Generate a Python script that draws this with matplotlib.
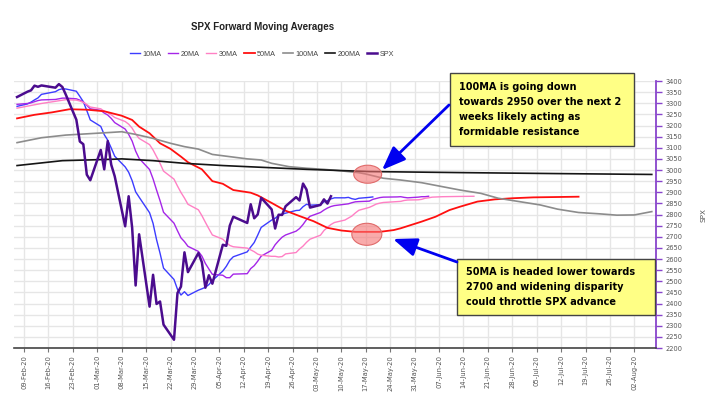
import matplotlib
matplotlib.use('Agg')
import matplotlib.pyplot as plt
import matplotlib.dates as mdates
from matplotlib.patches import Ellipse, Rectangle, FancyArrowPatch
from matplotlib import font_manager
import pandas as pd

# ---- data ----
spx_dates = ['02-07','02-10','02-11','02-12','02-13','02-14','02-18','02-19','02-20','02-21',
             '02-24','02-25','02-26','02-27','02-28','03-02','03-03','03-04','03-05','03-06',
             '03-09','03-10','03-11','03-12','03-13','03-16','03-17','03-18','03-19','03-20',
             '03-23','03-24','03-25','03-26','03-27','03-30','03-31','04-01','04-02','04-03',
             '04-06','04-07','04-08','04-09','04-13','04-14','04-15','04-16','04-17','04-20',
             '04-21','04-22','04-23','04-24','04-27','04-28','04-29','04-30','05-01','05-04',
             '05-05','05-06','05-07']
spx_vals = [3328,3352,3358,3379,3374,3380,3370,3386,3373,3338,
            3226,3128,3116,2979,2954,3090,3003,3130,3024,2972,
            2747,2882,2741,2481,2711,2386,2529,2398,2409,2305,
            2237,2447,2476,2630,2541,2627,2585,2471,2527,2489,
            2664,2659,2750,2790,2762,2846,2783,2800,2875,2823,
            2737,2799,2798,2837,2878,2863,2939,2912,2831,2843,
            2868,2849,2882]

ma10_dates = ['02-07','02-10','02-11','02-12','02-13','02-14','02-18','02-19','02-20','02-21',
              '02-24','02-25','02-26','02-27','02-28','03-02','03-03','03-04','03-05','03-06',
              '03-09','03-10','03-11','03-12','03-13','03-16','03-17','03-18','03-19','03-20',
              '03-23','03-24','03-25','03-26','03-27','03-30','03-31','04-01','04-02','04-03',
              '04-06','04-07','04-08','04-09','04-13','04-14','04-15','04-16','04-17','04-20',
              '04-21','04-22','04-23','04-24','04-27','04-28','04-29','04-30','05-01','05-04',
              '05-05','05-06','05-07','05-08','05-11','05-12','05-13','05-14','05-15','05-18',
              '05-19']
ma10_vals = [3286,3297,3305,3315,3324,3340,3352,3361,3365,3364,
             3354,3331,3307,3267,3225,3196,3159,3134,3099,3062,
             3014,2990,2952,2902,2878,2808,2760,2687,2626,2559,
             2508,2464,2438,2453,2436,2460,2466,2473,2485,2503,
             2546,2567,2594,2610,2632,2654,2674,2707,2742,2775,
             2783,2797,2801,2806,2818,2819,2835,2846,2842,2844,
             2857,2862,2870,2875,2875,2877,2871,2868,2873,2877,
             2879]

ma20_dates = ['02-07','02-10','02-11','02-12','02-13','02-14','02-18','02-19','02-20','02-21',
              '02-24','02-25','02-26','02-27','02-28','03-02','03-03','03-04','03-05','03-06',
              '03-09','03-10','03-11','03-12','03-13','03-16','03-17','03-18','03-19','03-20',
              '03-23','03-24','03-25','03-26','03-27','03-30','03-31','04-01','04-02','04-03',
              '04-06','04-07','04-08','04-09','04-13','04-14','04-15','04-16','04-17','04-20',
              '04-21','04-22','04-23','04-24','04-27','04-28','04-29','04-30','05-01','05-04',
              '05-05','05-06','05-07','05-08','05-11','05-12','05-13','05-14','05-15','05-18',
              '05-19','05-20','05-21','05-22','05-26','05-27','05-28','05-29','06-01','06-02',
              '06-03','06-04']
ma20_vals = [3295,3299,3302,3307,3312,3315,3317,3320,3323,3323,
             3320,3314,3306,3291,3275,3268,3256,3247,3232,3213,
             3184,3160,3130,3085,3052,3002,2960,2910,2862,2810,
             2761,2727,2695,2678,2657,2634,2613,2580,2555,2531,
             2527,2516,2516,2532,2534,2557,2570,2590,2613,2639,
             2664,2682,2698,2708,2725,2737,2755,2777,2792,2809,
             2820,2829,2836,2840,2846,2848,2853,2857,2858,2860,
             2868,2872,2876,2878,2879,2880,2877,2875,2878,2880,
             2880,2882]

ma30_dates = ['02-07','02-14','02-21','02-24','02-25','02-26','02-27','02-28','03-02','03-03',
              '03-04','03-05','03-06','03-09','03-10','03-11','03-12','03-13','03-16','03-17',
              '03-18','03-19','03-20','03-23','03-24','03-25','03-26','03-27','03-30','03-31',
              '04-01','04-02','04-03','04-06','04-07','04-08','04-09','04-13','04-14','04-15',
              '04-16','04-17','04-20','04-21','04-22','04-23','04-24','04-27','04-28','04-29',
              '04-30','05-01','05-04','05-05','05-06','05-07','05-08','05-11','05-12','05-13',
              '05-14','05-15','05-18','05-19','05-20','05-21','05-22','05-26','05-27','05-28',
              '05-29','06-01','06-02','06-03','06-04','06-05','06-08','06-12','06-17']
ma30_vals = [3278,3299,3316,3314,3310,3304,3294,3283,3275,3264,
             3258,3248,3236,3218,3206,3188,3162,3142,3114,3090,
             3060,3030,2995,2959,2928,2899,2874,2846,2821,2795,
             2765,2736,2708,2689,2674,2661,2655,2649,2641,2633,
             2622,2617,2612,2612,2609,2611,2623,2629,2645,2658,
             2675,2689,2707,2728,2742,2755,2764,2775,2784,2793,
             2807,2819,2832,2839,2847,2851,2854,2858,2859,2863,
             2865,2866,2868,2873,2875,2878,2880,2881,2882]

ma50_dates = ['02-07','02-12','02-17','02-22','02-27','03-03','03-08','03-11','03-13','03-16',
              '03-19','03-22','03-25','03-27','03-31','04-03','04-06','04-09','04-14','04-16',
              '04-20','04-24','04-28','05-02','05-06','05-10','05-14','05-21','05-25','05-27',
              '05-30','06-02','06-06','06-10','06-13','06-18','06-23','06-28','07-04','07-17']
ma50_vals = [3232,3248,3259,3273,3271,3264,3244,3225,3195,3165,
             3120,3095,3060,3035,3003,2950,2938,2910,2898,2886,
             2852,2817,2793,2770,2740,2728,2722,2722,2730,2738,
             2753,2768,2790,2820,2835,2858,2868,2873,2877,2880]

ma100_dates = ['02-07','02-14','02-21','03-05','03-08','03-12','03-17','03-22','03-26','03-30',
               '04-03','04-08','04-13','04-17','04-20','04-25','04-30','05-05','05-10','05-15',
               '05-17','05-22','05-27','06-02','06-07','06-13','06-19','06-24','06-30','07-06',
               '07-11','07-17','07-23','07-28','08-02','08-07']
ma100_vals = [3123,3145,3157,3169,3172,3160,3142,3120,3105,3094,
              3070,3060,3050,3045,3030,3015,3008,3003,2996,2988,
              2982,2963,2955,2943,2928,2910,2895,2873,2858,2843,
              2824,2809,2803,2797,2798,2813]

ma200_dates = ['02-07','02-20','03-05','03-08','03-17','03-26','04-06','04-13','04-30','05-18',
               '06-15','07-10','08-07']
ma200_vals = [3020,3042,3048,3050,3042,3030,3020,3015,3003,2993,2988,2984,2980]

week_ticks = pd.date_range('2020-02-09', '2020-08-02', freq='7D')

note1 = ['100MA is going down', 'towards 2950 over the next 2',
         'weeks likely acting as', 'formidable resistance']
note2 = ['50MA is headed lower towards', '2700 and widening disparity',
         'could throttle SPX advance']


def dates(lst):
    return pd.to_datetime(['2020-' + d for d in lst])


names = {f.name for f in font_manager.fontManager.ttflist}
if 'Liberation Sans Narrow' in names:
    narrow, title_size, leg_size = 'Liberation Sans Narrow', 8.0, 6.0
else:
    narrow, title_size, leg_size = 'Liberation Sans', 7.0, 5.2

W, H = 720, 404
def fx(x):
    return x / W
def fy(y):
    return 1 - y / H

fig = plt.figure(figsize=(7.2, 4.04), dpi=100)
ax = fig.add_axes([fx(14), fy(348), 642 / W, 267 / H])

ax.plot(dates(ma10_dates), ma10_vals, color='#3c3cff', lw=1.0, label='10MA')
ax.plot(dates(ma20_dates), ma20_vals, color='#a526e8', lw=1.0, label='20MA')
ax.plot(dates(ma30_dates), ma30_vals, color='#ff80c4', lw=1.0, label='30MA')
ax.plot(dates(ma50_dates), ma50_vals, color='#ff1010', lw=1.3, label='50MA')
ax.plot(dates(ma100_dates), ma100_vals, color='#8c8c8c', lw=1.2, label='100MA')
ax.plot(dates(ma200_dates), ma200_vals, color='#151515', lw=1.2, label='200MA')
ax.plot(dates(spx_dates), spx_vals, color='#4b0c8e', lw=1.8, label='SPX')

ax.set_xlim(pd.Timestamp('2020-02-06 03:00'), pd.Timestamp('2020-08-08 05:00'))
ax.set_ylim(2200, 3400)
ax.set_xticks(week_ticks)
ax.xaxis.set_major_formatter(mdates.DateFormatter('%d-%b-%y'))
plt.setp(ax.get_xticklabels(), rotation=90)
ax.set_yticks(range(2200, 3401, 50))
ax.yaxis.tick_right()
ax.grid(True, color='#e6e6e6', lw=1.0)
ax.set_axisbelow(True)

ax.tick_params(axis='y', length=4.3, width=1.0, color='#8844cc', labelcolor='#555555',
               labelsize=4.8, pad=2.5)
ax.tick_params(axis='x', length=3, width=0.8, color='#777777', labelcolor='#555555',
               labelsize=4.9, pad=2)
for s in ['left', 'top']:
    ax.spines[s].set_visible(False)
ax.spines['right'].set_color('#8844cc')
ax.spines['right'].set_linewidth(1.3)
ax.spines['bottom'].set_color('#444444')
ax.spines['bottom'].set_linewidth(1.2)

ax.yaxis.set_label_position('right')
ax.set_ylabel('SPX', rotation=90, fontsize=5.2, color='#555555', va='center', ha='center')
ax.yaxis.set_label_coords((703 - 14) / 642, 0.5)

# highlight ellipses
e1 = Ellipse((mdates.date2num(pd.Timestamp('2020-05-17 13:00')), 2981), 8.0, 81,
             facecolor=(0.96, 0.45, 0.45, 0.6), edgecolor='#e06a6a', lw=0.8, zorder=5)
e2 = Ellipse((mdates.date2num(pd.Timestamp('2020-05-17 07:00')), 2711), 8.6, 99,
             facecolor=(0.96, 0.45, 0.45, 0.6), edgecolor='#e06a6a', lw=0.8, zorder=5)
ax.add_patch(e1)
ax.add_patch(e2)

fig.text(fx(263), fy(27), 'SPX Forward Moving Averages', ha='center', va='center',
         fontsize=title_size, fontweight='bold', family=narrow, color='#222222')
fig.legend(loc='center', bbox_to_anchor=(fx(262), fy(54)), ncol=7, frameon=False,
           prop={'family': narrow, 'size': leg_size}, handlelength=1.4,
           handletextpad=0.35, columnspacing=0.9, labelcolor='#444444')

# note boxes
fig.add_artist(Rectangle((fx(450), fy(146)), 184 / W, 73 / H, transform=fig.transFigure,
                         facecolor='#ffff85', edgecolor='#444444', lw=1.0))
fig.add_artist(Rectangle((fx(457), fy(315)), 198 / W, 56 / H, transform=fig.transFigure,
                         facecolor='#ffff85', edgecolor='#444444', lw=1.0))
for i, line in enumerate(note1):
    fig.text(fx(459), fy(89.5 + i * 15.3), line, fontsize=7, fontweight='bold',
             family='DejaVu Sans', va='baseline', ha='left')
for i, line in enumerate(note2):
    fig.text(fx(466), fy(275 + i * 15.2), line, fontsize=7, fontweight='bold',
             family='DejaVu Sans', va='baseline', ha='left')

# arrows
for tail, head in [((449, 105), (382, 170)), ((457, 262), (393, 239))]:
    fig.add_artist(FancyArrowPatch((fx(tail[0]), fy(tail[1])), (fx(head[0]), fy(head[1])),
                                   transform=fig.transFigure, color='#0000f0', lw=2.0,
                                   arrowstyle='-|>,head_length=0.9,head_width=0.35',
                                   mutation_scale=16, shrinkA=0, shrinkB=0))

fig.savefig('out.png', dpi=100)
